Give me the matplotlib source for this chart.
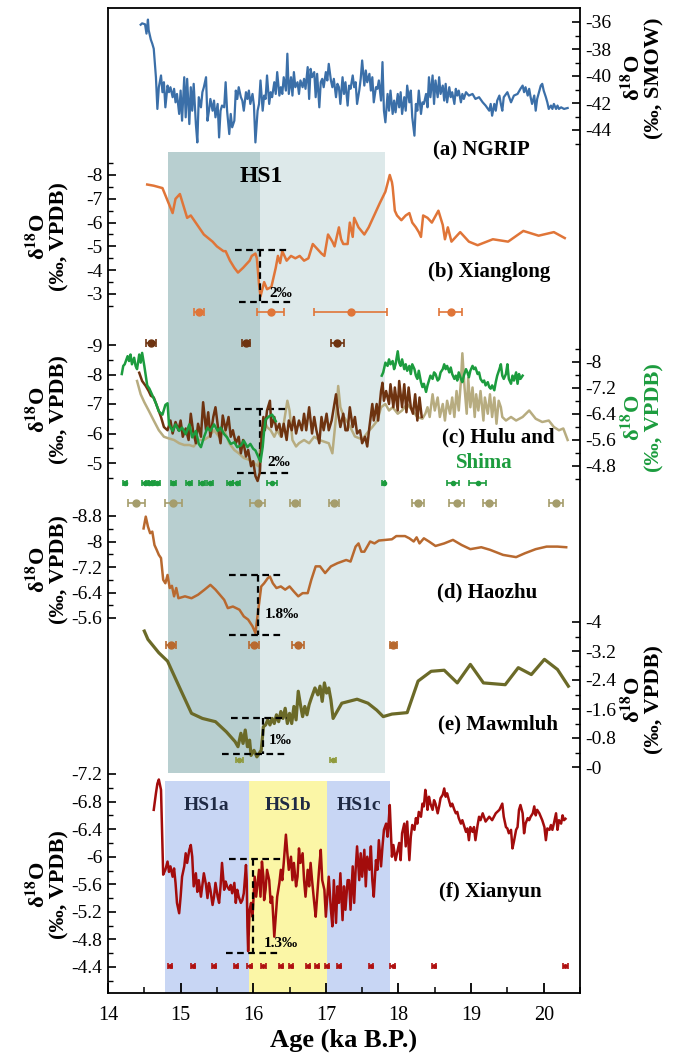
import matplotlib
matplotlib.use('Agg')
import matplotlib.pyplot as plt
import numpy as np
from matplotlib.ticker import FixedLocator, FuncFormatter, MultipleLocator

plt.rcParams['font.family'] = ['Liberation Serif', 'DejaVu Serif']
plt.rcParams['mathtext.fontset'] = 'stix'
plt.rcParams['axes.unicode_minus'] = False

# ---------------- data (age ka B.P., d18O) ----------------
ngrip = [(14.45,-36.2),(14.47,-36.1),(14.51,-36.17),(14.53,-36.86),(14.55,-35.82),(14.56,-36.6),(14.59,-37.31),(14.61,-37.61),(14.63,-37.98),(14.66,-40.09),(14.68,-42.44),(14.70,-40.83),(14.73,-39.96),(14.75,-41.2),(14.77,-40.46),(14.79,-42.32),(14.82,-40.71),(14.84,-41.2),(14.86,-40.83),(14.89,-41.57),(14.91,-40.95),(14.93,-41.95),(14.95,-41.33),(14.98,-42.81),(15.00,-41.08),(15.02,-43.31),(15.05,-40.09),(15.07,-43.06),(15.09,-40.21),(15.12,-43.56),(15.14,-40.83),(15.16,-42.57),(15.18,-40.58),(15.21,-43.56),(15.23,-44.92),(15.25,-41.57),(15.28,-42.32),(15.30,-41.2),(15.32,-40.83),(15.35,-40.09),(15.37,-43.31),(15.39,-42.57),(15.41,-41.7),(15.44,-42.57),(15.46,-41.82),(15.48,-43.06),(15.51,-42.07),(15.53,-44.55),(15.55,-42.57),(15.57,-42.19),(15.60,-42.32),(15.62,-40.46),(15.64,-42.57),(15.67,-44.3),(15.69,-42.81),(15.71,-43.8),(15.74,-43.31),(15.76,-41.08),(15.78,-41.7),(15.80,-40.83),(15.83,-41.57),(15.85,-41.82),(15.87,-42.57),(15.90,-41.2),(15.92,-41.7),(15.94,-41.08),(15.96,-42.07),(15.99,-41.33),(16.01,-42.19),(16.03,-44.92),(16.06,-42.57),(16.08,-42.07),(16.10,-40.33),(16.13,-42.57),(16.15,-41.45),(16.17,-41.7),(16.19,-39.96),(16.22,-42.07),(16.24,-41.2),(16.26,-41.57),(16.29,-40.46),(16.31,-41.33),(16.33,-39.71),(16.36,-41.45),(16.38,-40.83),(16.40,-41.33),(16.42,-40.09),(16.45,-41.08),(16.47,-38.35),(16.49,-41.33),(16.52,-40.09),(16.54,-41.45),(16.56,-39.71),(16.58,-40.83),(16.61,-40.46),(16.63,-41.33),(16.65,-40.33),(16.68,-40.83),(16.70,-40.21),(16.72,-40.95),(16.75,-39.34),(16.77,-41.7),(16.79,-39.47),(16.81,-40.09),(16.84,-39.71),(16.86,-41.57),(16.88,-39.84),(16.91,-42.32),(16.93,-40.46),(16.95,-40.21),(16.97,-40.83),(17.00,-39.71),(17.02,-40.33),(17.04,-39.1),(17.07,-40.33),(17.09,-40.83),(17.11,-40.21),(17.14,-41.57),(17.16,-40.58),(17.18,-40.83),(17.20,-42.07),(17.23,-40.09),(17.25,-41.33),(17.27,-40.46),(17.30,-42.19),(17.32,-40.71),(17.34,-40.95),(17.37,-39.96),(17.39,-40.83),(17.41,-40.46),(17.43,-42.07),(17.46,-41.08),(17.48,-40.21),(17.50,-38.85),(17.53,-40.71),(17.55,-39.59),(17.57,-40.46),(17.60,-39.84),(17.62,-41.08),(17.64,-40.09),(17.66,-41.95),(17.69,-40.83),(17.71,-40.95),(17.73,-40.33),(17.76,-41.82),(17.78,-38.97),(17.80,-42.57),(17.82,-43.43),(17.85,-41.33),(17.87,-42.57),(17.89,-41.08),(17.92,-42.81),(17.94,-41.82),(17.96,-42.69),(17.99,-41.33),(18.01,-42.32),(18.03,-41.2),(18.05,-42.81),(18.08,-41.57),(18.10,-42.57),(18.12,-40.71),(18.15,-41.95),(18.17,-41.08),(18.19,-43.06),(18.22,-44.42),(18.24,-42.07),(18.26,-42.57),(18.28,-41.08),(18.31,-42.81),(18.33,-41.95),(18.35,-42.07),(18.38,-41.33),(18.40,-42.32),(18.42,-40.09),(18.44,-41.57),(18.47,-39.96),(18.49,-42.07),(18.51,-40.33),(18.54,-41.57),(18.56,-40.09),(18.58,-41.33),(18.61,-40.71),(18.63,-41.82),(18.65,-40.58),(18.67,-41.95),(18.70,-40.83),(18.72,-41.57),(18.74,-41.2),(18.77,-42.07),(18.79,-40.95),(18.81,-41.45),(18.83,-41.08),(18.86,-41.95),(18.88,-41.33),(18.90,-41.7),(18.93,-41.2),(18.97,-41.45),(19.02,-41.33),(19.06,-41.7),(19.11,-41.57),(19.16,-41.95),(19.20,-42.19),(19.25,-42.57),(19.27,-42.07),(19.29,-42.94),(19.32,-42.07),(19.34,-42.57),(19.36,-41.82),(19.39,-41.45),(19.41,-42.07),(19.43,-42.57),(19.45,-41.57),(19.50,-41.2),(19.55,-41.95),(19.59,-41.45),(19.64,-41.33),(19.68,-40.95),(19.71,-40.71),(19.73,-41.2),(19.75,-40.83),(19.78,-41.45),(19.80,-40.95),(19.82,-41.57),(19.84,-42.07),(19.87,-41.45),(19.89,-42.57),(19.91,-41.7),(19.96,-40.71),(19.98,-40.58),(20.00,-41.08),(20.03,-41.57),(20.05,-41.95),(20.07,-42.44),(20.10,-42.19),(20.12,-42.44),(20.14,-42.07),(20.17,-42.44),(20.19,-42.19),(20.21,-42.44),(20.24,-42.32),(20.28,-42.44),(20.33,-42.37)]

xianglong = [(14.54,-7.6),(14.63,-7.55),(14.69,-7.5),(14.75,-7.45),(14.81,-7.0),(14.89,-6.4),(14.93,-7.0),(14.99,-7.2),(15.05,-6.6),(15.09,-6.2),(15.14,-6.3),(15.23,-5.9),(15.32,-5.5),(15.44,-5.2),(15.50,-5.0),(15.59,-4.8),(15.62,-4.8),(15.68,-4.4),(15.74,-4.1),(15.79,-3.9),(15.86,-4.1),(15.95,-4.4),(15.98,-4.6),(16.03,-4.7),(16.05,-4.5),(16.08,-3.4),(16.10,-2.9),(16.15,-3.5),(16.19,-3.2),(16.25,-3.3),(16.31,-4.1),(16.34,-4.6),(16.37,-4.3),(16.40,-4.8),(16.46,-4.4),(16.52,-4.6),(16.58,-4.5),(16.64,-4.6),(16.70,-4.4),(16.76,-4.5),(16.82,-5.1),(16.88,-4.9),(16.94,-4.7),(16.98,-4.6),(17.03,-5.5),(17.09,-5.2),(17.12,-5.0),(17.18,-5.8),(17.21,-5.3),(17.24,-5.1),(17.30,-5.1),(17.33,-6.0),(17.37,-5.4),(17.39,-6.2),(17.45,-5.8),(17.53,-5.5),(17.59,-5.8),(17.65,-6.2),(17.74,-6.8),(17.82,-7.3),(17.88,-8.0),(17.91,-7.7),(17.92,-7.5),(17.95,-6.5),(17.98,-6.3),(18.04,-6.1),(18.10,-6.3),(18.15,-6.4),(18.19,-6.0),(18.24,-5.8),(18.28,-5.6),(18.31,-5.4),(18.34,-6.3),(18.40,-6.2),(18.46,-6.0),(18.55,-6.5),(18.61,-5.9),(18.64,-5.3),(18.68,-5.8),(18.73,-5.2),(18.85,-5.6),(18.97,-5.2),(19.09,-5.05),(19.30,-5.3),(19.51,-5.2),(19.72,-5.65),(19.93,-5.45),(20.14,-5.6),(20.29,-5.35)]

hulu_brown = [(14.43,-8.06),(14.47,-7.78),(14.52,-7.61),(14.56,-7.44),(14.59,-7.28),(14.63,-7.22),(14.68,-6.89),(14.73,-6.56),(14.77,-6.22),(14.82,-6.11),(14.86,-6.44),(14.89,-6.0),(14.93,-6.39),(14.97,-6.11),(15.00,-6.44),(15.03,-5.89),(15.07,-6.17),(15.11,-5.78),(15.14,-6.67),(15.17,-6.11),(15.21,-5.67),(15.24,-6.33),(15.28,-5.89),(15.31,-7.06),(15.35,-6.11),(15.38,-6.72),(15.41,-5.89),(15.45,-6.56),(15.48,-6.89),(15.52,-6.11),(15.55,-5.67),(15.58,-6.61),(15.62,-6.11),(15.66,-6.56),(15.69,-5.89),(15.72,-6.11),(15.76,-5.67),(15.80,-5.89),(15.83,-5.33),(15.86,-5.78),(15.90,-5.22),(15.93,-5.44),(15.97,-4.89),(16.00,-5.06),(16.03,-4.56),(16.06,-4.39),(16.09,-4.67),(16.12,-6.11),(16.14,-6.56),(16.16,-6.11),(16.19,-6.78),(16.23,-7.11),(16.25,-6.22),(16.29,-6.56),(16.32,-6.11),(16.36,-6.33),(16.39,-5.89),(16.42,-6.33),(16.46,-5.78),(16.49,-6.44),(16.53,-6.11),(16.56,-6.56),(16.59,-6.0),(16.63,-6.44),(16.67,-6.11),(16.70,-6.67),(16.73,-6.11),(16.77,-6.89),(16.81,-6.0),(16.84,-6.56),(16.87,-6.11),(16.91,-5.67),(16.94,-6.56),(16.97,-6.11),(17.01,-6.67),(17.04,-6.11),(17.08,-6.44),(17.11,-6.89),(17.14,-7.33),(17.17,-6.67),(17.20,-6.22),(17.24,-6.67),(17.27,-6.11),(17.30,-6.11),(17.33,-6.89),(17.37,-6.22),(17.40,-6.56),(17.43,-6.0),(17.47,-6.11),(17.50,-5.67),(17.54,-5.89),(17.57,-5.56),(17.60,-6.22),(17.64,-7.0),(17.66,-6.44),(17.70,-7.0),(17.72,-6.44),(17.76,-7.44),(17.78,-7.72),(17.80,-7.11),(17.83,-7.44),(17.87,-7.0),(17.89,-7.67),(17.93,-6.89),(17.95,-7.56),(17.99,-6.78),(18.01,-7.78),(18.05,-6.89),(18.08,-7.67),(18.11,-6.72),(18.14,-7.56),(18.17,-6.89),(18.20,-6.67),(18.23,-7.33),(18.26,-6.44),(18.29,-7.22),(18.32,-6.56)]

hulu_tan = [(14.40,-7.78),(14.45,-7.33),(14.50,-7.06),(14.56,-6.78),(14.63,-6.44),(14.70,-6.11),(14.77,-5.89),(14.84,-5.83),(14.91,-5.78),(14.98,-5.67),(15.05,-5.61),(15.12,-5.61),(15.18,-5.56),(15.25,-5.78),(15.32,-5.78),(15.39,-5.89),(15.46,-6.11),(15.53,-5.89),(15.60,-6.11),(15.67,-5.67),(15.74,-5.44),(15.80,-5.33),(15.87,-5.17),(15.94,-5.11),(16.01,-5.0),(16.07,-4.89),(16.12,-6.11),(16.15,-6.44),(16.19,-6.22),(16.24,-6.11),(16.29,-5.89),(16.33,-6.11),(16.38,-5.89),(16.42,-6.33),(16.47,-7.11),(16.50,-6.78),(16.54,-5.78),(16.59,-5.56),(16.63,-5.67),(16.70,-5.78),(16.77,-5.67),(16.84,-5.89),(16.91,-5.78),(16.98,-5.72),(17.04,-5.67),(17.09,-5.33),(17.14,-6.56),(17.17,-7.61),(17.20,-6.89),(17.25,-6.56),(17.32,-6.3),(17.40,-5.9),(17.50,-5.8),(17.60,-6.11),(17.64,-6.22),(17.71,-6.44),(17.76,-6.89),(17.82,-7.0),(17.87,-6.78),(17.92,-6.89),(17.99,-6.67),(18.05,-6.78),(18.12,-7.0),(18.19,-6.78),(18.26,-6.56),(18.33,-6.5),(18.37,-6.67),(18.40,-6.89),(18.43,-6.56),(18.47,-7.33),(18.50,-6.78),(18.54,-7.22),(18.57,-6.56),(18.61,-7.0),(18.64,-6.44),(18.67,-7.11),(18.71,-6.67),(18.74,-7.22),(18.77,-6.56),(18.80,-7.44),(18.83,-6.78),(18.86,-7.78),(18.88,-8.72),(18.91,-7.56),(18.94,-6.67),(18.96,-7.89),(18.99,-6.89),(19.02,-7.56),(19.05,-6.56),(19.07,-7.33),(19.10,-6.78),(19.13,-7.44),(19.17,-6.44),(19.19,-7.22),(19.23,-6.67),(19.26,-7.33),(19.29,-6.56),(19.32,-7.22),(19.35,-6.33),(19.38,-7.11),(19.41,-6.89),(19.43,-6.56),(19.48,-6.44),(19.55,-6.56),(19.62,-6.44),(19.71,-6.56),(19.80,-6.78),(19.89,-6.5),(19.98,-6.39),(20.07,-6.44),(20.14,-6.22),(20.21,-6.11),(20.27,-6.17),(20.33,-5.78)]

shima_early = [(14.19,-7.63),(14.21,-7.88),(14.23,-7.93),(14.27,-8.18),(14.29,-8.03),(14.31,-8.23),(14.33,-7.93),(14.36,-8.13),(14.38,-7.88),(14.40,-7.78),(14.43,-8.23),(14.45,-7.98),(14.47,-8.28),(14.50,-7.88),(14.52,-7.58),(14.54,-7.28),(14.57,-7.18),(14.61,-6.98),(14.66,-6.73),(14.70,-6.48),(14.75,-6.38),(14.79,-6.68),(14.82,-6.73),(14.84,-6.08),(14.89,-5.88),(14.93,-6.08),(14.98,-5.88),(15.02,-5.98),(15.07,-5.78),(15.12,-6.08),(15.16,-5.68),(15.21,-5.88),(15.25,-5.48),(15.28,-5.38),(15.32,-5.68),(15.37,-5.98),(15.41,-5.88),(15.46,-6.08),(15.51,-5.88),(15.55,-5.98),(15.60,-5.78),(15.64,-5.68),(15.69,-5.48),(15.74,-5.53),(15.78,-5.38),(15.83,-5.43),(15.87,-5.58),(15.92,-5.38),(15.96,-5.48),(16.00,-5.33),(16.03,-5.28),(16.07,-5.08),(16.10,-4.93),(16.13,-5.38),(16.15,-5.88),(16.17,-6.23),(16.22,-6.33),(16.26,-6.38),(16.31,-6.18)]

shima_late = [(17.77,-7.58),(17.79,-7.68),(17.82,-7.98),(17.85,-7.88),(17.87,-8.08),(17.89,-7.93),(17.92,-8.03),(17.94,-7.78),(17.96,-7.93),(17.99,-8.33),(18.01,-7.98),(18.03,-7.88),(18.05,-8.08),(18.08,-7.78),(18.10,-7.93),(18.12,-7.73),(18.15,-7.88),(18.17,-7.63),(18.19,-7.93),(18.22,-7.78),(18.24,-7.58),(18.26,-7.48),(18.28,-7.73),(18.31,-7.38),(18.33,-7.23),(18.35,-7.33),(18.38,-7.08),(18.40,-7.28),(18.42,-7.43),(18.44,-7.58),(18.47,-7.48),(18.49,-7.68),(18.51,-7.63),(18.54,-7.43),(18.56,-7.48),(18.58,-7.68),(18.61,-7.78),(18.63,-7.93),(18.65,-7.78),(18.67,-7.88),(18.70,-7.68),(18.72,-7.83),(18.74,-7.63),(18.77,-7.48),(18.79,-7.58),(18.81,-7.43),(18.83,-7.68),(18.86,-7.48),(18.88,-7.38),(18.90,-7.58),(18.93,-7.78),(18.95,-7.68),(18.97,-7.53),(18.99,-7.73),(19.02,-7.88),(19.04,-7.78),(19.06,-7.83),(19.09,-7.63),(19.11,-7.68),(19.13,-7.48),(19.16,-7.38),(19.18,-7.43),(19.20,-7.28),(19.23,-7.38),(19.25,-7.23),(19.27,-7.18),(19.29,-7.28),(19.32,-7.13),(19.34,-7.38),(19.36,-7.58),(19.39,-7.78),(19.41,-7.93),(19.43,-7.58),(19.45,-7.48),(19.48,-7.63),(19.50,-7.93),(19.52,-7.48),(19.55,-7.33),(19.57,-7.58),(19.59,-7.43),(19.62,-7.68),(19.64,-7.33),(19.66,-7.63),(19.68,-7.48),(19.71,-7.58)]

haozhu = [(14.49,-8.41),(14.52,-8.78),(14.55,-8.47),(14.58,-8.26),(14.61,-8.31),(14.64,-7.89),(14.67,-7.74),(14.70,-7.58),(14.73,-7.48),(14.76,-6.80),(14.79,-6.69),(14.82,-6.95),(14.85,-6.54),(14.88,-6.61),(14.91,-6.28),(14.94,-6.54),(14.97,-6.22),(15.06,-6.28),(15.15,-6.22),(15.24,-6.33),(15.33,-6.49),(15.41,-6.64),(15.48,-6.49),(15.54,-6.33),(15.60,-6.17),(15.65,-5.91),(15.72,-5.96),(15.81,-5.86),(15.87,-5.65),(15.93,-5.55),(15.99,-5.34),(16.03,-5.13),(16.07,-5.86),(16.11,-6.59),(16.15,-6.69),(16.20,-6.85),(16.23,-6.90),(16.27,-6.69),(16.32,-6.54),(16.38,-6.59),(16.44,-6.49),(16.50,-6.59),(16.56,-6.43),(16.62,-6.28),(16.68,-6.38),(16.75,-6.38),(16.80,-6.80),(16.86,-7.22),(16.92,-7.22),(16.99,-7.01),(17.07,-7.22),(17.16,-7.32),(17.28,-7.42),(17.34,-7.37),(17.41,-7.84),(17.45,-7.94),(17.49,-7.68),(17.53,-7.68),(17.57,-7.84),(17.61,-8.0),(17.67,-7.94),(17.73,-8.03),(17.82,-8.05),(17.91,-8.07),(17.97,-8.17),(18.09,-8.17),(18.15,-8.10),(18.21,-8.00),(18.25,-8.13),(18.29,-7.94),(18.35,-8.10),(18.42,-8.00),(18.51,-7.86),(18.63,-7.94),(18.75,-8.05),(18.87,-7.89),(18.99,-7.76),(19.14,-7.82),(19.26,-7.74),(19.44,-7.58),(19.62,-7.51),(19.74,-7.63),(19.89,-7.76),(20.04,-7.84),(20.19,-7.84),(20.31,-7.82)]

mawmluh = [(14.50,-3.75),(14.55,-3.52),(14.70,-3.15),(14.82,-2.92),(15.00,-2.13),(15.15,-1.48),(15.30,-1.34),(15.48,-1.25),(15.63,-0.97),(15.75,-0.70),(15.79,-0.56),(15.83,-0.93),(15.86,-0.65),(15.89,-1.02),(15.92,-0.56),(15.95,-0.74),(15.97,-0.32),(16.01,-0.46),(16.05,-0.28),(16.08,-0.37),(16.11,-0.46),(16.14,-1.11),(16.17,-1.16),(16.20,-1.30),(16.23,-1.16),(16.26,-1.34),(16.29,-1.20),(16.32,-1.44),(16.35,-1.25),(16.38,-1.53),(16.41,-1.34),(16.44,-1.62),(16.47,-1.20),(16.50,-1.48),(16.53,-1.20),(16.56,-1.67),(16.59,-1.30),(16.62,-2.09),(16.65,-1.72),(16.68,-1.39),(16.71,-1.67),(16.74,-1.44),(16.77,-1.72),(16.80,-1.90),(16.85,-2.18),(16.89,-1.99),(16.92,-2.23),(16.95,-1.81),(16.98,-2.32),(17.01,-2.04),(17.04,-2.18),(17.07,-1.85),(17.10,-1.34),(17.22,-1.76),(17.43,-1.87),(17.58,-1.76),(17.70,-1.57),(17.79,-1.39),(17.91,-1.46),(18.12,-1.50),(18.27,-2.37),(18.45,-2.64),(18.63,-2.67),(18.81,-2.32),(18.99,-2.83),(19.17,-2.32),(19.47,-2.27),(19.65,-2.74),(19.83,-2.55),(20.01,-2.97),(20.19,-2.69),(20.34,-2.23)]

xianyun = [(14.63,-6.68),(14.66,-6.92),(14.68,-7.06),(14.70,-7.12),(14.73,-6.97),(14.75,-6.15),(14.76,-5.74),(14.79,-5.81),(14.82,-5.93),(14.84,-5.78),(14.86,-5.86),(14.89,-5.71),(14.91,-5.83),(14.93,-5.62),(14.95,-5.33),(14.98,-5.18),(15.00,-5.42),(15.02,-5.71),(15.05,-5.86),(15.07,-6.05),(15.09,-5.91),(15.12,-6.10),(15.14,-6.17),(15.16,-6.00),(15.18,-5.57),(15.21,-5.76),(15.23,-5.49),(15.25,-5.66),(15.28,-5.42),(15.30,-5.59),(15.32,-5.76),(15.35,-5.59),(15.37,-5.40),(15.39,-5.62),(15.41,-5.52),(15.44,-5.30),(15.46,-5.42),(15.48,-5.62),(15.51,-5.42),(15.53,-5.33),(15.55,-5.57),(15.57,-5.91),(15.60,-5.52),(15.62,-5.64),(15.64,-5.57),(15.67,-5.52),(15.69,-5.59),(15.71,-5.47),(15.74,-5.62),(15.76,-5.33),(15.78,-5.52),(15.80,-5.42),(15.83,-5.33),(15.85,-5.37),(15.87,-5.47),(15.90,-5.88),(15.91,-5.66),(15.92,-4.99),(15.93,-4.63),(15.95,-5.23),(15.97,-5.33),(15.99,-5.13),(16.01,-5.52),(16.02,-5.71),(16.04,-5.42),(16.06,-5.62),(16.08,-5.81),(16.10,-5.42),(16.12,-5.93),(16.14,-5.71),(16.15,-5.37),(16.17,-5.52),(16.19,-5.81),(16.22,-5.66),(16.24,-5.33),(16.26,-5.42),(16.29,-4.84),(16.31,-5.13),(16.33,-5.42),(16.36,-5.62),(16.38,-5.81),(16.40,-5.66),(16.42,-5.91),(16.45,-6.32),(16.47,-6.05),(16.49,-5.81),(16.52,-6.00),(16.54,-5.66),(16.56,-5.91),(16.59,-5.57),(16.61,-5.71),(16.63,-6.12),(16.65,-5.91),(16.68,-6.05),(16.70,-5.66),(16.72,-5.42),(16.75,-5.81),(16.77,-5.57),(16.79,-5.91),(16.81,-5.66),(16.84,-5.33),(16.86,-5.13),(16.88,-5.42),(16.91,-5.86),(16.93,-6.10),(16.95,-5.66),(16.98,-5.52),(17.00,-5.13),(17.02,-5.42),(17.04,-5.71),(17.07,-5.23),(17.09,-4.99),(17.11,-5.66),(17.14,-5.04),(17.16,-5.57),(17.18,-5.33),(17.20,-5.76),(17.23,-5.08),(17.25,-5.57),(17.27,-5.23),(17.30,-5.66),(17.32,-5.66),(17.34,-5.23),(17.37,-5.86),(17.39,-5.33),(17.41,-5.81),(17.43,-6.15),(17.46,-5.66),(17.48,-6.05),(17.50,-5.71),(17.53,-6.10),(17.55,-5.57),(17.57,-6.00),(17.60,-5.81),(17.62,-6.15),(17.64,-5.66),(17.66,-5.42),(17.69,-5.95),(17.71,-5.81),(17.73,-6.24),(17.76,-5.86),(17.78,-6.15),(17.80,-6.39),(17.83,-6.48),(17.85,-6.29),(17.87,-6.58),(17.88,-6.75),(17.91,-6.00),(17.93,-6.17),(17.96,-5.95),(17.99,-6.10),(18.01,-6.20),(18.03,-5.95),(18.05,-6.34),(18.08,-6.48),(18.10,-6.15),(18.12,-6.51),(18.15,-5.95),(18.17,-6.29),(18.19,-6.46),(18.22,-6.39),(18.24,-6.56),(18.26,-6.48),(18.28,-6.65),(18.31,-6.58),(18.33,-6.77),(18.35,-6.73),(18.37,-6.97),(18.39,-6.82),(18.40,-6.68),(18.42,-6.87),(18.44,-6.77),(18.47,-6.68),(18.49,-6.82),(18.51,-6.77),(18.54,-6.63),(18.56,-6.73),(18.58,-6.85),(18.61,-6.90),(18.63,-6.99),(18.65,-6.87),(18.67,-6.92),(18.70,-6.80),(18.72,-6.73),(18.74,-6.77),(18.77,-6.68),(18.79,-6.63),(18.81,-6.65),(18.83,-6.56),(18.86,-6.48),(18.88,-6.53),(18.90,-6.46),(18.93,-6.36),(18.95,-6.41),(18.97,-6.24),(18.99,-6.43),(19.02,-6.36),(19.04,-6.43),(19.06,-6.24),(19.09,-6.46),(19.11,-6.58),(19.13,-6.53),(19.16,-6.63),(19.20,-6.51),(19.25,-6.58),(19.29,-6.53),(19.34,-6.63),(19.39,-6.68),(19.43,-6.77),(19.45,-6.58),(19.48,-6.43),(19.50,-6.41),(19.52,-6.34),(19.55,-6.39),(19.57,-6.12),(19.59,-6.22),(19.62,-6.39),(19.64,-6.43),(19.66,-6.68),(19.68,-6.75),(19.71,-6.63),(19.73,-6.34),(19.75,-6.48),(19.78,-6.56),(19.80,-6.53),(19.82,-6.58),(19.85,-6.63),(19.87,-6.73),(19.89,-6.60),(19.91,-6.68),(19.94,-6.63),(19.96,-6.58),(19.98,-6.53),(20.01,-6.43),(20.03,-6.24),(20.05,-6.41),(20.08,-6.39),(20.10,-6.46),(20.12,-6.39),(20.14,-6.48),(20.17,-6.63),(20.19,-6.39),(20.21,-6.53),(20.24,-6.48),(20.26,-6.60),(20.28,-6.53),(20.30,-6.55)]

# U-Th dates (age, 2-sigma error)
xl_dates, xl_err = [15.25, 16.24, 17.34, 18.72], [0.07, 0.19, 0.50, 0.16]
hulu_dates, hulu_err = [14.59, 15.90, 17.16], [0.07, 0.06, 0.09]
shima_dates = [14.23, 14.51, 14.56, 14.61, 14.67, 14.90, 15.11, 15.29, 15.41, 15.68, 15.77, 16.26, 17.80, 18.75, 19.09]
shima_err = [0.03, 0.04, 0.04, 0.04, 0.04, 0.03, 0.04, 0.04, 0.04, 0.04, 0.05, 0.07, 0.02, 0.08, 0.12]
tan_dates = [14.39, 14.90, 16.06, 16.58, 17.11, 18.27, 18.80, 19.25, 20.17]
tan_err = [0.12, 0.12, 0.10, 0.07, 0.07, 0.08, 0.10, 0.09, 0.10]
hz_dates, hz_err = [14.87, 16.01, 16.62, 17.93], [0.07, 0.07, 0.08, 0.05]
mw_dates, mw_err = [15.81, 17.10], [0.05, 0.04]
xy_dates = [14.85, 15.17, 15.46, 15.76, 15.95, 16.14, 16.38, 16.52, 16.75, 16.88, 17.02, 17.18, 17.62, 17.92, 18.49, 20.30]

# HS1 intervals
hs1_dark = (14.82, 16.09)
hs1_light = (16.09, 17.82)
hs1_sub = [('HS1a', 14.78, 15.94), ('HS1b', 15.94, 17.01), ('HS1c', 17.01, 17.89)]

# ---------------- layout (pixels of the 680x1055 canvas) ----------------
W, H = 680, 1055
FL, FR, FT, FB = 108, 580, 8, 993

def fx(x):
    return x / W

def fy(y):
    return 1 - y / H

fig = plt.figure(figsize=(W / 100, H / 100), dpi=100)
rect = [fx(FL), fy(FB), (FR - FL) / W, (FB - FT) / H]
frame = fig.add_axes(rect)
frame.set_xlim(14.0, 20.5)
frame.set_ylim(0, 1)
frame.set_yticks([])
for sp in frame.spines.values():
    sp.set_linewidth(1.3)
frame.xaxis.set_major_locator(MultipleLocator(1))
frame.xaxis.set_minor_locator(MultipleLocator(0.5))
frame.tick_params(axis='x', which='both', direction='in', labelsize=14.5)
frame.tick_params(axis='x', which='major', length=7, width=1.3, pad=9)
frame.tick_params(axis='x', which='minor', length=4, width=1.1)


def frac(y):
    return (FB - y) / (FB - FT)

# shading
frame.axvspan(*hs1_dark, ymin=frac(773), ymax=frac(152), color='#b8cfd0', lw=0, zorder=0)
frame.axvspan(*hs1_light, ymin=frac(773), ymax=frac(152), color='#dde9ea', lw=0, zorder=0)
for name, a, b in hs1_sub:
    c = '#fbf6a6' if name == 'HS1b' else '#c8d6f4'
    frame.axvspan(a, b, ymin=0, ymax=frac(781), color=c, lw=0, zorder=0)


def make_panel(va, ya, vb, yb, side, major, minor):
    ax = fig.add_axes(rect, sharex=frame)
    ax.patch.set_visible(False)
    for sp in ax.spines.values():
        sp.set_visible(False)
    k = (yb - ya) / (vb - va)
    ax.set_ylim(va + (FB - ya) / k, va + (FT - ya) / k)
    ax.tick_params(axis='x', which='both', bottom=False, top=False, labelbottom=False)
    ax.yaxis.set_major_locator(FixedLocator(major))
    ax.yaxis.set_minor_locator(FixedLocator(minor))
    ax.yaxis.set_major_formatter(FuncFormatter(lambda v, p: '%g' % v))
    if side == 'right':
        ax.yaxis.tick_right()
    else:
        ax.yaxis.tick_left()
    ax.tick_params(axis='y', which='both', direction='in', labelsize=14)
    ax.tick_params(axis='y', which='major', length=6, width=1.2, pad=4)
    ax.tick_params(axis='y', which='minor', length=3.5, width=1.0)
    return ax


def xy(pts):
    a = np.array(pts)
    return a[:, 0], a[:, 1]


def dates(ax, ages, err, level, color, ms=5, cap=3):
    ax.errorbar(ages, [level] * len(ages), xerr=err, fmt='o', ms=ms, color=color,
                ecolor=color, elinewidth=1.2, capsize=cap, capthick=1.2)


def box(ax, top, bot, xv, color='k'):
    kw = dict(color=color, lw=1.6, ls=(0, (3, 2)))
    ax.plot(top[:2], [top[2]] * 2, **kw)
    ax.plot(bot[:2], [bot[2]] * 2, **kw)
    ax.plot([xv, xv], [top[2], bot[2]], **kw)


LW = 1.8

# (a) NGRIP
ax_a = make_panel(-36, 22, -44, 130, 'right', [-36, -38, -40, -42, -44], [-37, -39, -41, -43, -45])
ax_a.plot(*xy(ngrip), color='#3b6fa8', lw=1.6)

# (b) Xianglong
ax_b = make_panel(-8, 175, -3, 294, 'left', [-8, -7, -6, -5, -4, -3], [-8.5, -7.5, -6.5, -5.5, -4.5, -3.5, -2.5])
ax_b.plot(*xy(xianglong), color='#e07538', lw=LW)
dates(ax_b, xl_dates, xl_err, -2.25, '#e07538')
box(ax_b, (15.75, 16.47, -4.86), (15.81, 16.53, -2.65), 16.10)

# (c) Hulu and Shima
ax_c = make_panel(-9, 345, -5, 463, 'left', [-9, -8, -7, -6, -5], [-8.5, -7.5, -6.5, -5.5, -4.5])
ax_g = make_panel(-8, 362, -4.8, 466, 'right', [-8, -7.2, -6.4, -5.6, -4.8], [-8.4, -7.6, -6.8, -6.0, -5.2, -4.4])
ax_c.plot(*xy(hulu_tan), color='#b7ac80', lw=LW, zorder=2)
ax_g.plot(*xy(shima_early), color='#1c9c3e', lw=LW, zorder=3)
ax_g.plot(*xy(shima_late), color='#1c9c3e', lw=LW, zorder=3)
ax_c.plot(*xy(hulu_brown), color='#6e3310', lw=LW, zorder=4)
dates(ax_c, hulu_dates, hulu_err, -9.06, '#6e3310')
dates(ax_c, shima_dates, shima_err, -4.31, '#1c9c3e', ms=3, cap=2)
dates(ax_c, tan_dates, tan_err, -3.64, '#a59d6c')
box(ax_c, (15.73, 16.49, -6.83), (15.78, 16.52, -4.67), 16.10)

# (d) Haozhu
ax_d = make_panel(-8.8, 516, -5.6, 618, 'left', [-8.8, -8, -7.2, -6.4, -5.6], [-8.4, -7.6, -6.8, -6.0])
ax_d.plot(*xy(haozhu), color='#b8692f', lw=LW)
dates(ax_d, hz_dates, hz_err, -4.74, '#b8692f')
box(ax_d, (15.66, 16.41, -6.95), (15.66, 16.41, -5.08), 16.07)

# (e) Mawmluh
ax_e = make_panel(-4, 622, 0, 767, 'right', [-4, -3.2, -2.4, -1.6, -0.8, -0.0], [-3.6, -2.8, -2.0, -1.2, -0.4])
ax_e.plot(*xy(mawmluh), color='#6b6a28', lw=2.3)
dates(ax_e, mw_dates, mw_err, -0.18, '#8f9a3c', ms=3, cap=2)
box(ax_e, (15.70, 16.47, -1.36), (15.57, 16.47, -0.37), 16.13)

# (f) Xianyun
ax_f = make_panel(-7.2, 774, -4.4, 967, 'left', [-7.2, -6.8, -6.4, -6, -5.6, -5.2, -4.8, -4.4],
                  [-7.0, -6.6, -6.2, -5.8, -5.4, -5.0, -4.6, -4.2])
ax_f.plot(*xy(xianyun), color='#a30c0c', lw=LW)
dates(ax_f, xy_dates, [0.03] * len(xy_dates), -4.41, '#b01010', ms=2.5, cap=2.5)
box(ax_f, (15.67, 16.42, -5.96), (15.62, 16.36, -4.61), 16.00)

# ---------------- texts ----------------
bold = dict(fontweight='bold')
fig.text(fx(530), fy(150), '(a) NGRIP', ha='right', va='center', fontsize=15, **bold)
fig.text(fx(261), fy(176), 'HS1', ha='center', va='center', fontsize=17, **bold)
fig.text(fx(550), fy(272), '(b) Xianglong', ha='right', va='center', fontsize=15, **bold)
fig.text(fx(555), fy(437), '(c) Hulu and', ha='right', va='center', fontsize=15, **bold)
fig.text(fx(484), fy(463), 'Shima', ha='center', va='center', fontsize=15, color='#1c9c3e', **bold)
fig.text(fx(537), fy(592), '(d) Haozhu', ha='right', va='center', fontsize=15, **bold)
fig.text(fx(558), fy(724), '(e) Mawmluh', ha='right', va='center', fontsize=15, **bold)
fig.text(fx(542), fy(892), '(f) Xianyun', ha='right', va='center', fontsize=15, **bold)
for name, a, b in hs1_sub:
    frame.text((a + b) / 2, frac(805), name, ha='center', va='center', fontsize=14,
               color='#1f2a44', transform=frame.get_xaxis_transform(), **bold)

# amplitude labels
ax_b.text(16.22, -3.0, '2‰', fontsize=11, va='center', **bold)
ax_c.text(16.20, -5.0, '2‰', fontsize=11, va='center', **bold)
ax_d.text(16.16, -5.7, '1.8‰', fontsize=11, va='center', **bold)
ax_e.text(16.22, -0.74, '1‰', fontsize=11, va='center', **bold)
ax_f.text(16.14, -4.74, '1.3‰', fontsize=11, va='center', **bold)

ylab = 'δ$^{\\mathbf{18}}$O\n(‰, %s)'
for x, y, s, c in [(48, 237, 'VPDB', 'k'), (48, 410, 'VPDB', 'k'), (48, 570, 'VPDB', 'k'),
                   (48, 885, 'VPDB', 'k'), (643, 78, 'SMOW', 'k'), (643, 418, 'VPDB', '#1c9c3e'),
                   (643, 700, 'VPDB', 'k')]:
    fig.text(fx(x), fy(y), ylab % s, rotation=90, ha='center', va='center', fontsize=16,
             color=c, linespacing=1.0, **bold)

fig.text(fx(344), fy(1040), 'Age (ka B.P.)', ha='center', va='center', fontsize=19, **bold)

fig.savefig('out.png', dpi=100)
